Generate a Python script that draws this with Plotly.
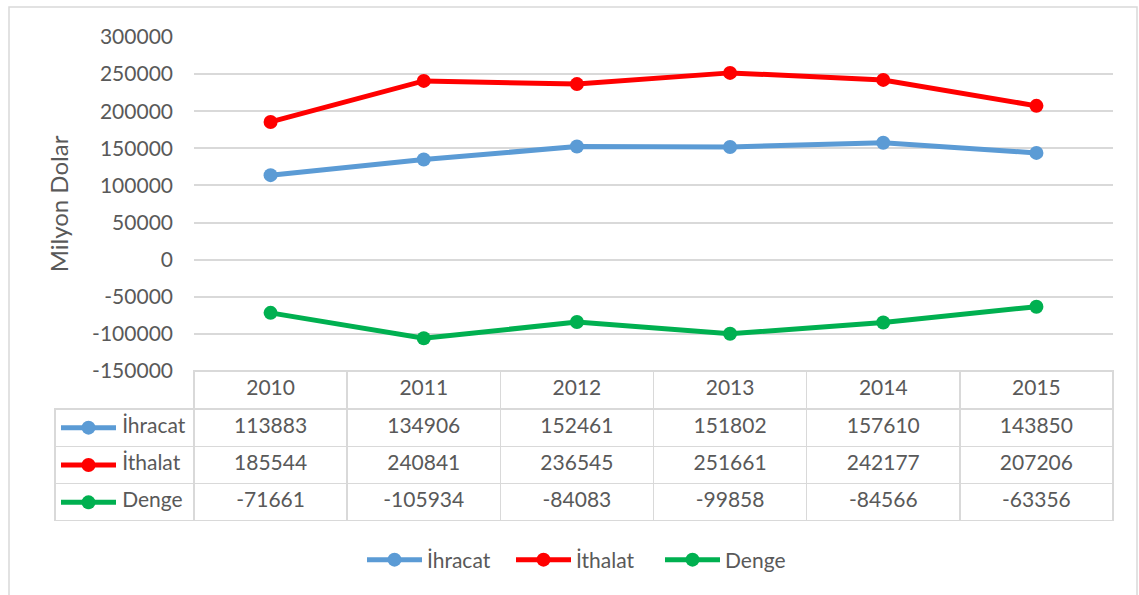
import plotly.graph_objects as go

# ---- data ----
years = ["2010", "2011", "2012", "2013", "2014", "2015"]
series_names = ["İhracat", "İthalat", "Denge"]
ihracat = [113883, 134906, 152461, 151802, 157610, 143850]
ithalat = [185544, 240841, 236545, 251661, 242177, 207206]
denge = [-71661, -105934, -84083, -99858, -84566, -63356]
series_values = [ihracat, ithalat, denge]
y_ticks = [-150000, -100000, -50000, 0, 50000, 100000, 150000, 200000, 250000, 300000]
colors = ["#5B9BD5", "#FF0000", "#00B050"]
y_title = "Milyon Dolar"

# ---- geometry (pixels) ----
W, H = 1139, 595
PX0, PX1 = 194, 1113      # plot area left/right
PY_TOP, PY_BOT = 37, 371  # plot area top/bottom
TBL_X0 = 55               # table left
TBL_BOT = 521             # table bottom
HDR_H = 38
ROW_H = (TBL_BOT - PY_BOT - HDR_H) / 3.0

FONT = "Lato"
TXT = "#595959"
GRID = "#D9D9D9"
FS = 21

def px(x):
    return x / W

def py(y):
    return 1 - y / H

fig = go.Figure()

for name, vals, col in zip(series_names, series_values, colors):
    fig.add_trace(go.Scatter(
        x=list(range(len(years))), y=vals, name=name,
        mode="lines+markers",
        line=dict(color=col, width=5),
        marker=dict(color=col, size=14),
        xaxis="x", yaxis="y",
    ))

# data table under the chart
pad = "\u00a0" * 11
fig.add_trace(go.Table(
    domain=dict(x=[px(TBL_X0), px(PX1)], y=[py(TBL_BOT), py(PY_BOT)]),
    columnwidth=[PX0 - TBL_X0] + [(PX1 - PX0) / len(years)] * len(years),
    header=dict(
        values=[""] + years,
        height=HDR_H,
        fill_color=["rgba(0,0,0,0)"] + ["white"] * len(years),
        line=dict(color=["rgba(0,0,0,0)"] + [GRID] * len(years), width=1.5),
        font=dict(family=FONT, size=FS, color=TXT),
        align="center",
    ),
    cells=dict(
        values=[[pad + n for n in series_names]] +
               [[str(s[i]) for s in series_values] for i in range(len(years))],
        height=ROW_H,
        fill_color="white",
        line=dict(color=GRID, width=1.5),
        font=dict(family=FONT, size=FS, color=TXT),
        align=["left"] + ["center"] * len(years),
    ),
))

shapes = [
    # chart outer border
    dict(type="rect", xref="paper", yref="paper",
         x0=px(9), x1=px(1137), y0=-0.1, y1=py(7),
         line=dict(color=GRID, width=1.5), fillcolor="rgba(0,0,0,0)", layer="below"),
]
# legend keys inside the table's row-label cells
for i, col in enumerate(colors):
    yc = PY_BOT + HDR_H + ROW_H * (i + 0.5)
    shapes.append(dict(type="line", xref="paper", yref="paper",
                       x0=px(61), x1=px(116), y0=py(yc), y1=py(yc),
                       line=dict(color=col, width=5)))
    shapes.append(dict(type="circle", xref="paper", yref="paper",
                       x0=px(88.5 - 7), x1=px(88.5 + 7),
                       y0=py(yc + 7), y1=py(yc - 7),
                       fillcolor=col, line=dict(color=col, width=0)))

fig.update_layout(
    template="none",
    width=W, height=H,
    margin=dict(l=0, r=0, t=0, b=0, pad=0, autoexpand=False),
    paper_bgcolor="white", plot_bgcolor="white",
    font=dict(family=FONT, size=FS, color=TXT),
    showlegend=True,
    legend=dict(orientation="h", x=px(362), xanchor="left", y=py(560), yanchor="middle",
                font=dict(family=FONT, size=FS, color=TXT), itemwidth=55,
                entrywidth=79, entrywidthmode="pixels",
                bgcolor="rgba(0,0,0,0)"),
    xaxis=dict(domain=[px(PX0), px(PX1)], range=[-0.5, len(years) - 0.5],
               showticklabels=False, showgrid=False, zeroline=False, showline=False,
               fixedrange=True, automargin=False),
    yaxis=dict(domain=[py(PY_BOT), py(PY_TOP)], range=[y_ticks[0], y_ticks[-1]],
               tickvals=y_ticks, ticktext=[str(v) for v in y_ticks],
               showgrid=True, gridcolor=GRID, gridwidth=1.5,
               zeroline=False, showline=False, ticks="", ticklabelstandoff=20,
               automargin=False,
               tickfont=dict(family=FONT, size=FS, color=TXT),
               title=dict(text=y_title, standoff=16,
                          font=dict(family=FONT, size=24, color=TXT))),
    shapes=shapes,
)

fig.write_html(
    "out.html",
    config={"displayModeBar": False},
    post_script="document.body.style.margin='0';document.body.style.overflow='hidden';",
)
